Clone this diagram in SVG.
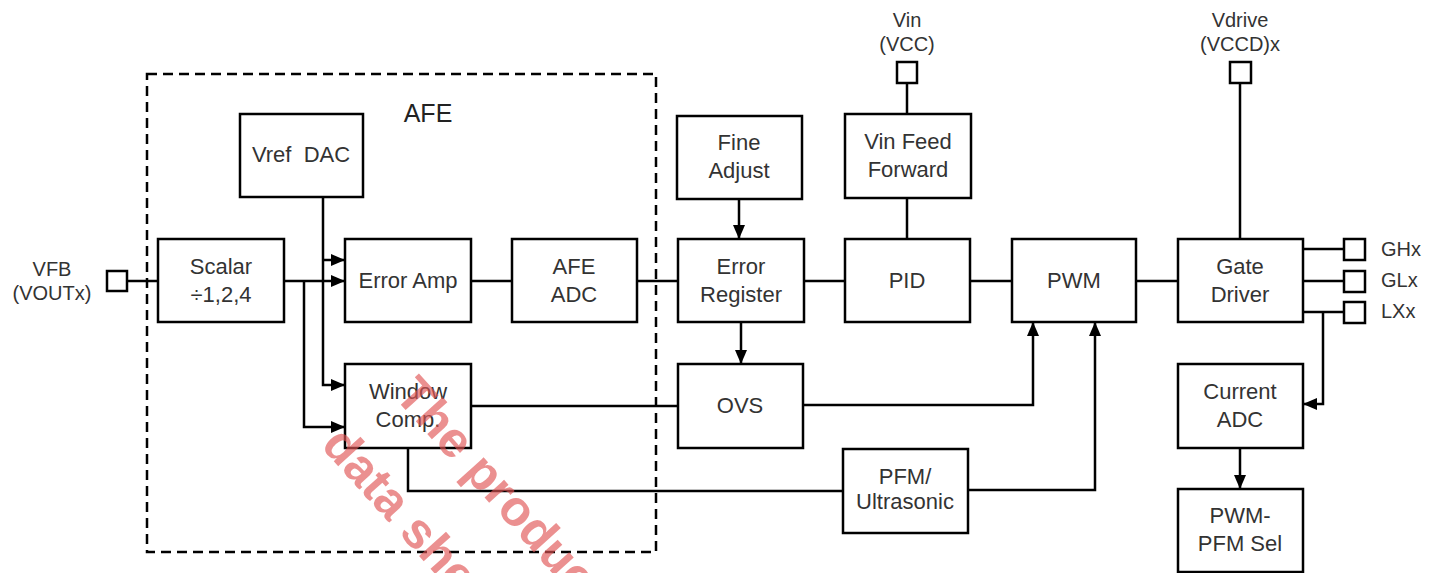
<svg xmlns="http://www.w3.org/2000/svg" width="1438" height="573" viewBox="0 0 1438 573">
<style>
.box{fill:#fff;stroke:#000;stroke-width:2.5}
.pin{fill:#fff;stroke:#000;stroke-width:2.5}
.t{font-family:"Liberation Sans",Arial,sans-serif;font-size:22px;fill:#333;text-anchor:middle}
.p{font-family:"Liberation Sans",Arial,sans-serif;font-size:20px;fill:#333;text-anchor:middle}
.pl{font-family:"Liberation Sans",Arial,sans-serif;font-size:20px;fill:#333;text-anchor:start}
.w{fill:none;stroke:#000;stroke-width:2.5}
.a{fill:none;stroke:#000;stroke-width:2.5;marker-end:url(#arr)}
.wm{font-family:"Liberation Sans",Arial,sans-serif;font-size:50px;font-weight:bold;fill:#e05555;fill-opacity:0.65}
</style>
<defs>
<marker id="arr" markerWidth="14" markerHeight="12" refX="14" refY="6" orient="auto" markerUnits="userSpaceOnUse">
<path d="M0,0 L14,6 L0,12 Z" fill="#000"/>
</marker>
</defs>

<g id="afe-region">
<rect x="147" y="74" width="509" height="478" fill="none" stroke="#000" stroke-width="2.5" stroke-dasharray="10 6"/>
<text x="428" y="122" style="font-family:'Liberation Sans',Arial,sans-serif;font-size:25px;fill:#222;text-anchor:middle">AFE</text>
</g>

<g id="connectors">
<path class="w" d="M127,281 H158"/>
<path class="a" d="M284,281 H345"/>
<path class="a" d="M304,281 V427 H345"/>
<path class="a" d="M323,197 V385 H345"/>
<path class="a" d="M323,260 H345"/>
<path class="w" d="M471,281 H512"/>
<path class="w" d="M637,281 H678"/>
<path class="a" d="M739,199 V239"/>
<path class="a" d="M741,322 V364"/>
<path class="w" d="M804,281 H845"/>
<path class="w" d="M907,83 V114"/>
<path class="w" d="M907,198 V239"/>
<path class="w" d="M970,281 H1012"/>
<path class="w" d="M471,406 H678"/>
<path class="a" d="M803,405 H1033 V322"/>
<path class="w" d="M408,448 V491 H843"/>
<path class="a" d="M968,490 H1095 V322"/>
<path class="w" d="M1136,281 H1178"/>
<path class="w" d="M1240,83 V239"/>
<path class="w" d="M1303,249 H1344"/>
<path class="w" d="M1303,281 H1344"/>
<path class="w" d="M1303,312 H1344"/>
<path class="a" d="M1323,312 V404 H1303"/>
<path class="a" d="M1240,448 V489"/>
</g>

<g id="pin-vfb">
<rect class="pin" x="107" y="271" width="20" height="20"/>
<text class="p" x="52" y="276">VFB</text>
<text class="p" x="52" y="300">(VOUTx)</text>
</g>
<g id="pin-vin">
<rect class="pin" x="897" y="62" width="20" height="21"/>
<text class="p" x="907" y="27">Vin</text>
<text class="p" x="907" y="51">(VCC)</text>
</g>
<g id="pin-vdrive">
<rect class="pin" x="1230" y="62" width="21" height="21"/>
<text class="p" x="1240" y="27">Vdrive</text>
<text class="p" x="1240" y="51">(VCCD)x</text>
</g>
<g id="pin-ghx">
<rect class="pin" x="1344" y="239" width="21" height="21"/>
<text class="pl" x="1381" y="256">GHx</text>
</g>
<g id="pin-glx">
<rect class="pin" x="1344" y="271" width="21" height="21"/>
<text class="pl" x="1381" y="287">GLx</text>
</g>
<g id="pin-lxx">
<rect class="pin" x="1344" y="302" width="21" height="21"/>
<text class="pl" x="1381" y="318">LXx</text>
</g>

<g id="scalar">
<rect class="box" x="158" y="239" width="126" height="83"/>
<text class="t" x="221" y="274">Scalar</text>
<text class="t" x="221" y="302">÷1,2,4</text>
</g>
<g id="vref-dac">
<rect class="box" x="240" y="114" width="123" height="83"/>
<text class="t" x="301" y="162" xml:space="preserve">Vref  DAC</text>
</g>
<g id="error-amp">
<rect class="box" x="345" y="239" width="126" height="83"/>
<text class="t" x="408" y="288">Error Amp</text>
</g>
<g id="afe-adc">
<rect class="box" x="512" y="239" width="125" height="83"/>
<text class="t" x="574" y="274">AFE</text>
<text class="t" x="574" y="302">ADC</text>
</g>
<g id="window-comp">
<rect class="box" x="345" y="364" width="126" height="84"/>
<text class="t" x="408" y="399">Window</text>
<text class="t" x="408" y="427">Comp.</text>
</g>
<g id="fine-adjust">
<rect class="box" x="677" y="116" width="125" height="83"/>
<text class="t" x="739" y="150">Fine</text>
<text class="t" x="739" y="178">Adjust</text>
</g>
<g id="vin-feed-forward">
<rect class="box" x="845" y="114" width="126" height="84"/>
<text class="t" x="908" y="149">Vin Feed</text>
<text class="t" x="908" y="177">Forward</text>
</g>
<g id="error-register">
<rect class="box" x="678" y="239" width="126" height="83"/>
<text class="t" x="741" y="274">Error</text>
<text class="t" x="741" y="302">Register</text>
</g>
<g id="pid">
<rect class="box" x="845" y="239" width="125" height="83"/>
<text class="t" x="907" y="288">PID</text>
</g>
<g id="pwm">
<rect class="box" x="1012" y="239" width="124" height="83"/>
<text class="t" x="1074" y="288">PWM</text>
</g>
<g id="ovs">
<rect class="box" x="678" y="364" width="125" height="84"/>
<text class="t" x="740" y="413">OVS</text>
</g>
<g id="pfm-ultrasonic">
<rect class="box" x="843" y="449" width="125" height="84"/>
<text class="t" x="905" y="484">PFM/</text>
<text class="t" x="905" y="509">Ultrasonic</text>
</g>
<g id="gate-driver">
<rect class="box" x="1178" y="239" width="125" height="83"/>
<text class="t" x="1240" y="274">Gate</text>
<text class="t" x="1240" y="302">Driver</text>
</g>
<g id="current-adc">
<rect class="box" x="1178" y="364" width="125" height="84"/>
<text class="t" x="1240" y="399">Current</text>
<text class="t" x="1240" y="427">ADC</text>
</g>
<g id="pwm-pfm-sel">
<rect class="box" x="1178" y="489" width="125" height="83"/>
<text class="t" x="1240" y="523">PWM-</text>
<text class="t" x="1240" y="551">PFM Sel</text>
</g>

<g id="watermark">
<text class="wm" transform="translate(393,396) rotate(48)">The product</text>
<text class="wm" transform="translate(320,446) rotate(48)">data sheet</text>
</g>
</svg>
